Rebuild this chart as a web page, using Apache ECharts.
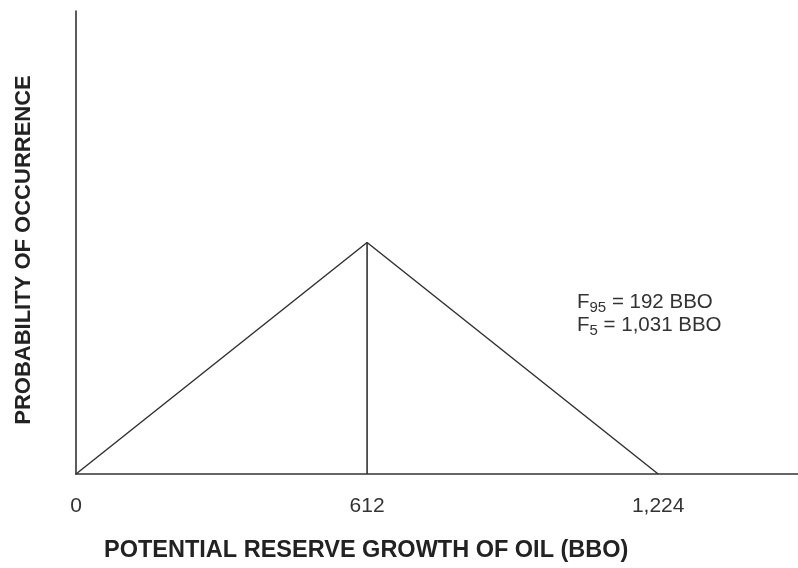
<!DOCTYPE html>
<html>
<head>
<meta charset="utf-8">
<script src="https://cdn.jsdelivr.net/npm/echarts@6/dist/echarts.min.js"></script>
<style>
  html, body { margin: 0; padding: 0; background: #fff; }
  #chart { width: 798px; height: 568px; }
</style>
</head>
<body>
<div id="chart"></div>
<script>
// Triangular distribution of potential reserve growth (BBO)
const xTicks = [0, 612, 1224];
const triangleX = [0, 612, 1224];
const triangleY = [0, 0.5, 0];
const modeX = [612, 612];
const modeY = [0, 0.5];
const xMax = 1518;
const yMax = 1;
const f95 = '192';
const f5 = '1,031';

const fmt = v => v.toLocaleString('en-US');
const ink = '#333';
const font = '"Liberation Sans", Arial, Helvetica, sans-serif';

const chart = echarts.init(document.getElementById('chart'));
chart.setOption({
  animation: false,
  grid: { left: 76, right: 0, top: 11, bottom: 94 },
  xAxis: {
    type: 'value', min: 0, max: xMax,
    axisLine: { lineStyle: { color: ink, width: 1.6 } },
    axisTick: { show: false },
    splitLine: { show: false },
    axisLabel: {
      customValues: xTicks,
      formatter: v => fmt(v),
      color: ink, fontSize: 21, fontFamily: font, margin: 22
    }
  },
  yAxis: {
    type: 'value', min: 0, max: yMax,
    axisLine: { show: true, lineStyle: { color: ink, width: 1.6 } },
    axisTick: { show: false },
    axisLabel: { show: false },
    splitLine: { show: false }
  },
  series: [
    {
      type: 'line', symbol: 'none',
      data: triangleX.map((x, i) => [x, triangleY[i]]),
      lineStyle: { color: ink, width: 1.5 }
    },
    {
      type: 'line', symbol: 'none',
      data: modeX.map((x, i) => [x, modeY[i]]),
      lineStyle: { color: ink, width: 1.6 }
    }
  ],
  graphic: [
    {
      type: 'text', left: 104, top: 539,
      style: {
        text: 'POTENTIAL RESERVE GROWTH OF OIL (BBO)',
        font: 'bold 23.5px ' + font, fill: '#222'
      }
    },
    {
      type: 'text', x: 24, y: 250, rotation: Math.PI / 2,
      style: {
        text: 'PROBABILITY OF OCCURRENCE',
        font: 'bold 22px ' + font, fill: '#222',
        align: 'center', verticalAlign: 'middle'
      }
    },
    {
      type: 'text', left: 577, top: 290,
      style: {
        text: '{m|F}{s|95}{m| = ' + f95 + ' BBO}\n{m|F}{s|5}{m| = ' + f5 + ' BBO}',
        fill: ink,
        rich: {
          m: { fontSize: 20.5, fontFamily: font, color: ink, lineHeight: 23 },
          s: { fontSize: 15, fontFamily: font, color: ink, lineHeight: 23, padding: [10, 0, 0, 0] }
        }
      }
    }
  ]
});
</script>
</body>
</html>
